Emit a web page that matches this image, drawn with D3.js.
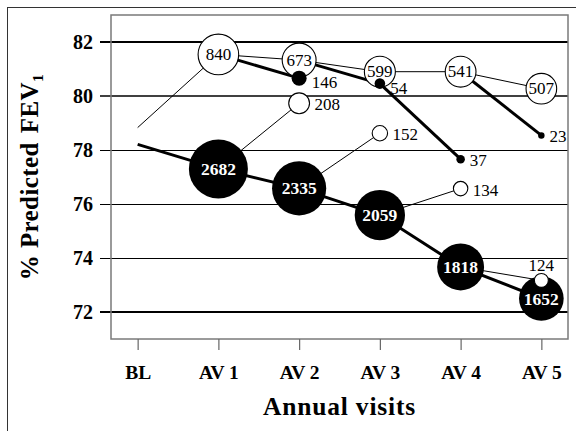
<!DOCTYPE html>
<html>
<head>
<meta charset="utf-8">
<script src="https://cdn.jsdelivr.net/npm/d3@7"></script>
<style>
  html, body { margin: 0; padding: 0; background: #fff; }
  svg { display: block; }
  text { font-family: "Liberation Serif", "Times New Roman", serif; }
</style>
</head>
<body>
<svg id="chart" width="576" height="431"></svg>
<script>
// ---- data ----
const visits = ["BL", "AV 1", "AV 2", "AV 3", "AV 4", "AV 5"];
const yTicks = [72, 74, 76, 78, 80, 82];

// continuing group (thick line, big black circles)
const mainValues = [78.21, 77.30, 76.58, 75.59, 73.67, 72.50];
const mainN      = [null, 2682, 2335, 2059, 1818, 1652];

// sustained group (thin line, white circles)
const sustValues = [78.83, 81.54, 81.33, 80.90, 80.90, 80.27];
const sustN      = [null, 840, 673, 599, 541, 507];

// branch to small black dots (thick line); origin group at previous visit
const relapseValues = [null, null, 80.66, 80.46, 77.66, 78.54];
const relapseN      = [null, null, 146, 54, 37, 23];
const relapseFrom   = [null, null, "sust", "sust", "relapse", "sust"];

// branch from continuing group at previous visit (thin line, small white dots)
const switchValues = [null, null, 79.73, 78.62, 76.57, 73.17];
const switchN      = [null, null, 208, 152, 134, 124];

// ---- layout ----
const svg = d3.select("#chart");
const plot = { left: 111, right: 568, top: 15, bottom: 339 };

const x = d3.scalePoint().domain(visits).range([plot.left, plot.right]).padding(0.33);
const y = d3.scaleLinear().domain([71, 83]).range([plot.bottom, plot.top]);
const r = d3.scaleLinear()
  .domain([0, 20, 50, 150, 210, 500, 600, 840, 1650, 2682])
  .range([0, 3, 5.2, 7.6, 10.5, 15.3, 15.5, 20.3, 22.3, 29.5]);

// outer frame
svg.append("rect").attr("x", 7.5).attr("y", 7.5).attr("width", 700).attr("height", 600)
  .attr("fill", "none").attr("stroke", "#333").attr("stroke-width", 1);

// gridlines
const gridW = { 72: 2, 74: 1, 76: 1, 78: 1, 80: 1.6, 82: 2 };
svg.append("g").selectAll("line").data(yTicks).join("line")
  .attr("x1", 100).attr("x2", plot.right)
  .attr("y1", d => Math.round(y(d)) + (gridW[d] === 1 ? 0.5 : 0))
  .attr("y2", d => Math.round(y(d)) + (gridW[d] === 1 ? 0.5 : 0))
  .attr("stroke", "#000").attr("stroke-width", d => gridW[d]);

// plot border
svg.append("rect").attr("x", plot.left).attr("y", plot.top)
  .attr("width", plot.right - plot.left).attr("height", plot.bottom - plot.top)
  .attr("fill", "none").attr("stroke", "#7a7a7a").attr("stroke-width", 1.5);

// y axis labels
const yAxis = d3.axisLeft(y).tickValues(yTicks).tickSize(0).tickPadding(0);
const ya = svg.append("g").attr("transform", `translate(93,0)`).call(yAxis);
ya.select(".domain").remove();
ya.selectAll("text").attr("font-size", 20).attr("font-weight", "bold")
  .attr("fill", "#000").attr("dy", "0.34em")
  .style("font-family", '"Liberation Serif", serif');

// x axis
const xAxis = d3.axisBottom(x).tickSize(11).tickPadding(15);
const xa = svg.append("g").attr("transform", `translate(0,${plot.bottom})`).call(xAxis);
xa.select(".domain").remove();
xa.selectAll("line").attr("stroke", "#666").attr("stroke-width", 1.2);
xa.selectAll("text").attr("font-size", 19.5).attr("font-weight", "bold")
  .attr("fill", "#000").style("font-family", '"Liberation Serif", serif');

// axis titles
svg.append("text").attr("x", (plot.left + plot.right) / 2).attr("y", 415)
  .attr("text-anchor", "middle").attr("font-size", 25.5).attr("font-weight", "bold")
  .attr("letter-spacing", 0.8).text("Annual visits");

const yt = svg.append("text")
  .attr("transform", `translate(38,${(plot.top + plot.bottom) / 2}) rotate(-90)`)
  .attr("text-anchor", "middle").attr("font-size", 25).attr("font-weight", "bold")
  .attr("letter-spacing", 0.4);
yt.append("tspan").text("% Predicted");
yt.append("tspan").attr("dx", 9).text("FEV");
yt.append("tspan").attr("font-size", 15.5).attr("dy", 5).text("1");

// ---- series geometry ----
const pts = (vals, ns) => vals.map((v, i) => v == null ? null :
  { x: x(visits[i]), y: y(v), n: ns[i], i });
const mainP = pts(mainValues, mainN);
const sustP = pts(sustValues, sustN);
const relP = pts(relapseValues, relapseN);
const swP = pts(switchValues, switchN);
const groups = { sust: sustP, relapse: relP, main: mainP };

const line = d3.line().x(d => d.x).y(d => d.y);
const gl = svg.append("g");

gl.append("path").attr("d", line(mainP)).attr("fill", "none")
  .attr("stroke", "#000").attr("stroke-width", 3);
gl.append("path").attr("d", line(sustP)).attr("fill", "none")
  .attr("stroke", "#000").attr("stroke-width", 1);

// branch segments
relP.forEach((p, i) => {
  if (!p) return;
  const from = groups[relapseFrom[i]][i - 1];
  gl.append("path").attr("d", line([from, p])).attr("fill", "none")
    .attr("stroke", "#000").attr("stroke-width", 3);
});
swP.forEach((p, i) => {
  if (!p) return;
  gl.append("path").attr("d", line([mainP[i - 1], p])).attr("fill", "none")
    .attr("stroke", "#000").attr("stroke-width", 1);
});

// circles
const gc = svg.append("g");
const bigBlack = mainP.filter(p => p && p.n);
gc.selectAll("circle.big").data(bigBlack).join("circle").attr("class", "big")
  .attr("cx", d => d.x).attr("cy", d => d.y).attr("r", d => r(d.n)).attr("fill", "#000");

const whites = sustP.filter(p => p && p.n).concat(swP.filter(p => p));
gc.selectAll("circle.white").data(whites).join("circle").attr("class", "white")
  .attr("cx", d => d.x).attr("cy", d => d.y).attr("r", d => r(d.n))
  .attr("fill", "#fff").attr("stroke", "#000").attr("stroke-width", 1.1);

const blackDots = relP.filter(p => p);
gc.selectAll("circle.dot").data(blackDots).join("circle").attr("class", "dot")
  .attr("cx", d => d.x).attr("cy", d => d.y).attr("r", d => r(d.n)).attr("fill", "#000");

// labels inside circles
const gt = svg.append("g");
gt.selectAll("text.in-big").data(bigBlack).join("text")
  .attr("x", d => d.x).attr("y", d => d.y + 6)
  .attr("text-anchor", "middle").attr("font-size", 17.5).attr("font-weight", "bold")
  .attr("fill", "#fff").text(d => d.n);
gt.selectAll("text.in-white").data(sustP.filter(p => p && p.n)).join("text")
  .attr("x", d => d.x).attr("y", d => d.y + 5.5)
  .attr("text-anchor", "middle").attr("font-size", 17).attr("fill", "#000").text(d => d.n);

// labels beside small dots
const side = relP.filter(p => p).concat(swP.filter(p => p));
gt.selectAll("text.side").data(side).join("text")
  .attr("x", d => swP[5] === d ? d.x : d.x + r(d.n) + 5)
  .attr("y", d => {
    if (swP[5] === d) return d.y - 9;
    if (relP[2] === d || relP[3] === d) return d.y + 10;
    return d.y + 7;
  })
  .attr("text-anchor", d => swP[5] === d ? "middle" : "start")
  .attr("font-size", 17).attr("fill", "#000").text(d => d.n);
</script>
</body>
</html>
